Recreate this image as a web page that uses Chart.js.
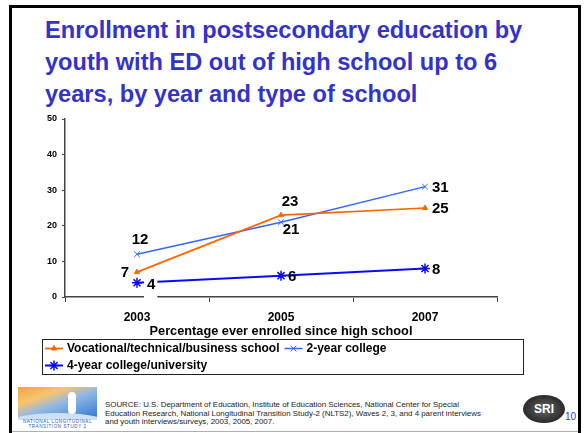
<!DOCTYPE html>
<html>
<head>
<meta charset="utf-8">
<title>Enrollment in postsecondary education</title>
<script src="https://cdn.jsdelivr.net/npm/chart.js@4/dist/chart.umd.min.js"></script>
<style>
  html, body { margin: 0; padding: 0; background: #fff; }
  body {
    width: 584px; height: 433px; position: relative; overflow: hidden;
    font-family: "Liberation Sans", Arial, sans-serif;
  }
  #frame {
    position: absolute; left: 9px; top: 5px; width: 572px; height: 450px;
    border: 3px solid #000; box-sizing: border-box;
  }
  #bottomLine { position: absolute; left: 12px; top: 431px; width: 566px; height: 1px; background: #b0b0b0; }
  #title {
    position: absolute; left: 45px; top: 14px; white-space: nowrap;
    font-weight: bold; font-size: 23.6px; line-height: 32px; color: #3333cc;
  }
  #chartBox { position: absolute; left: 0; top: 108px; width: 584px; height: 272px; }
  #logo {
    position: absolute; left: 18px; top: 387px; width: 79px; height: 42px; overflow: hidden;
    background: linear-gradient(160deg, #f4a43c 0%, #f7c46e 25%, #8fb8e6 45%, #3d7fd0 80%);
  }
  #logo .hill { position: absolute; left: -10px; top: 26px; width: 100px; height: 20px; border-radius: 50%; background: #cfe0f4; }
  #logo .walker { position: absolute; left: 50px; top: 5px; width: 8px; height: 22px; border-radius: 4px; background: #fff; }
  #logo .band {
    position: absolute; left: 0; top: 33px; width: 79px; height: 9px; background: #fff;
    font-size: 4.5px; line-height: 4.5px; color: #2a5aa8; letter-spacing: 0.6px; text-align: center;
  }
  #source {
    position: absolute; left: 105px; top: 401px; white-space: nowrap;
    font-size: 7.9px; line-height: 8.6px; color: #222;
  }
  #sri {
    position: absolute; left: 523px; top: 395px; width: 42px; height: 28px; border-radius: 50%;
    background: radial-gradient(ellipse at center, #666 0%, #2a2a2a 70%);
    color: #fff; font-weight: bold; font-size: 12px; line-height: 28px; text-align: center;
  }
  #page { position: absolute; left: 565px; top: 411px; font-size: 10px; color: #3333cc; }
</style>
</head>
<body>
<div id="frame"></div>
<div id="bottomLine"></div>
<div id="title">Enrollment in postsecondary education by<br>youth with ED out of high school up to 6<br>years, by year and type of school</div>
<div id="chartBox"><canvas id="enrollChart" width="584" height="272"></canvas></div>
<div id="logo"><div class="hill"></div><div class="walker"></div><div class="band">NATIONAL LONGITUDINAL<br>TRANSITION STUDY 2</div></div>
<div id="source">SOURCE: U.S. Department of Education, Institute of Education Sciences, National Center for Special<br>Education Research, National Longitudinal Transition Study-2 (NLTS2), Waves 2, 3, and 4 parent interviews<br>and youth interviews/surveys, 2003, 2005, 2007.</div>
<div id="sri">SRI</div>
<div id="page">10</div>

<script>
const years = ['2003', '2005', '2007'];
const vocational = [7, 23, 25];
const twoYear = [12, 21, 31];
const fourYear = [4, 6, 8];
const yTicks = [0, 10, 20, 30, 40, 50];
const seriesNames = ['Vocational/technical/business school', '2-year college', '4-year college/university'];
const xTitle = 'Percentage ever enrolled since high school';

// where each value label sits relative to its point
const labelPlace = [
  ['left', 'aboveRight', 'right'],
  ['above', 'belowRight', 'right'],
  ['rightBoxed', 'right', 'right']
];

const FONT = '"Liberation Sans", Arial, sans-serif';

const OFFSETS = {
  left:       { dx: -8, dy: 1,   align: 'right' },
  right:      { dx: 7,  dy: 1,   align: 'left' },
  above:      { dx: 3,  dy: -14, align: 'center' },
  aboveRight: { dx: 9,  dy: -13, align: 'center' },
  belowRight: { dx: 10, dy: 8,   align: 'center' },
  rightBoxed: { dx: 10, dy: 2,   align: 'left', box: true }
};

const valueLabels = {
  id: 'valueLabels',
  afterDatasetsDraw(chart) {
    const ctx = chart.ctx;
    ctx.save();
    ctx.font = 'bold 15px ' + FONT;
    ctx.textBaseline = 'middle';
    chart.data.datasets.forEach((ds, i) => {
      chart.getDatasetMeta(i).data.forEach((pt, j) => {
        const o = OFFSETS[labelPlace[i][j]];
        const txt = String(ds.data[j]);
        const x = pt.x + o.dx;
        const y = pt.y + o.dy;
        if (o.box) {
          // white text box, it also blanks the axis line beneath
          const w = ctx.measureText(txt).width;
          ctx.fillStyle = '#fff';
          ctx.fillRect(x - 3, y - 8, w + 5, 25);
        }
        ctx.fillStyle = '#000';
        ctx.textAlign = o.align;
        ctx.fillText(txt, x, y);
      });
    });
    ctx.restore();
  }
};

// legend inside a framed box, items flow left to right and wrap
const boxLegend = {
  id: 'boxLegend',
  afterDraw(chart, args, opts) {
    const ctx = chart.ctx;
    const { left, top, right, bottom } = opts;
    ctx.save();
    ctx.strokeStyle = '#222';
    ctx.lineWidth = 1;
    ctx.strokeRect(left + 0.5, top + 0.5, right - left, bottom - top);
    ctx.font = 'bold 12px ' + FONT;
    ctx.textBaseline = 'middle';
    ctx.textAlign = 'left';
    let x = left + 3;
    let y = top + 9.5;
    chart.data.datasets.forEach(ds => {
      const tw = ctx.measureText(ds.label).width;
      const w = 22 + tw;
      if (x + w > right) { x = left + 3; y += 17; }
      ctx.strokeStyle = ds.borderColor;
      ctx.fillStyle = ds.borderColor;
      ctx.lineWidth = ds.borderWidth;
      ctx.beginPath();
      ctx.moveTo(x, y);
      ctx.lineTo(x + 18, y);
      ctx.stroke();
      ctx.lineWidth = ds.pointBorderWidth;
      Chart.helpers.drawPoint(ctx, {
        pointStyle: ds.pointStyle, radius: ds.pointRadius, borderWidth: ds.pointBorderWidth, rotation: 0
      }, x + 9, y);
      ctx.fillStyle = '#000';
      ctx.fillText(ds.label, x + 22, y + 0.5);
      x += w + 5;
    });
    ctx.restore();
  }
};

new Chart(document.getElementById('enrollChart'), {
  type: 'line',
  data: {
    labels: years,
    datasets: [
      {
        label: seriesNames[0], data: vocational,
        borderColor: '#ff6600', backgroundColor: '#ff6600',
        borderWidth: 1.75, pointStyle: 'triangle', pointRadius: 3, pointBorderWidth: 1
      },
      {
        label: seriesNames[1], data: twoYear,
        borderColor: '#3366ff', backgroundColor: '#3366ff',
        borderWidth: 1.5, pointStyle: 'crossRot', pointRadius: 4, pointBorderWidth: 1
      },
      {
        label: seriesNames[2], data: fourYear,
        borderColor: '#0a0aff', backgroundColor: '#0a0aff',
        borderWidth: 2, pointStyle: 'star', pointRadius: 5, pointBorderWidth: 1.5
      }
    ]
  },
  options: {
    responsive: false,
    devicePixelRatio: 1,
    animation: false,
    layout: { padding: { left: 0, right: 87, top: 11, bottom: 41 } },
    plugins: {
      legend: { display: false },
      tooltip: { enabled: false },
      boxLegend: { left: 42, top: 231, right: 523, bottom: 266 }
    },
    scales: {
      x: {
        offset: true,
        grid: { drawOnChartArea: false, drawTicks: true, tickLength: 5, color: '#444', offset: true },
        border: { color: '#444', width: 1.5 },
        ticks: { color: '#000', font: { family: FONT, size: 12, weight: 'bold' }, padding: 8, maxRotation: 0 },
        title: {
          display: true, text: xTitle, color: '#000',
          font: { family: FONT, size: 12.75, weight: 'bold' }, padding: 0
        },
        afterFit(s) { s.height = 42; }
      },
      y: {
        min: 0, max: 50,
        afterBuildTicks(s) { s.ticks = yTicks.map(v => ({ value: v })); },
        grid: { drawOnChartArea: false, drawTicks: true, tickLength: 3, color: '#444' },
        border: { color: '#444', width: 1.5 },
        ticks: { color: '#000', font: { family: FONT, size: 9, weight: 'bold' }, padding: 5 },
        afterFit(s) { s.width = 65; }
      }
    }
  },
  plugins: [valueLabels, boxLegend]
});
</script>
</body>
</html>
